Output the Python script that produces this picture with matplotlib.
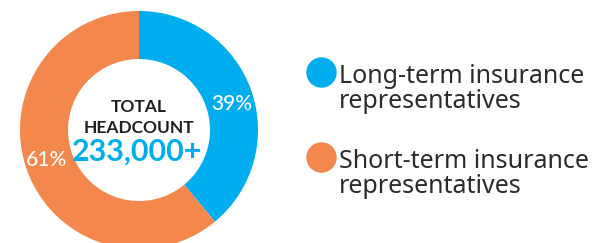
import matplotlib
matplotlib.use("Agg")
import matplotlib.pyplot as plt

categories = ["Long-term insurance\nrepresentatives", "Short-term insurance\nrepresentatives"]
shares = [39, 61]
colors = ["#00AEEF", "#F4874B"]
total_label = "233,000+"

fig = plt.figure(figsize=(5.92, 2.43), dpi=100)
ax = fig.add_axes([0, 0, 1, 1])
wedges, _ = ax.pie(shares, colors=colors, startangle=-90, counterclock=True,
                   center=(139, 130), radius=119,
                   wedgeprops=dict(width=48, edgecolor="none"))
ax.set_xlim(0, 592)
ax.set_ylim(243, 0)
ax.set_aspect("equal")
ax.axis("off")

font = "Lato"
ax.text(232, 104, f"{shares[0]}%", color="white", fontsize=15, family=font,
        fontweight="medium", ha="center", va="center")
ax.text(47, 160, f"{shares[1]}%", color="white", fontsize=15, family=font,
        fontweight="medium", ha="center", va="center")

ax.text(139, 107, "TOTAL", color="#231F20", fontsize=12.5, family=font,
        fontweight="bold", ha="center", va="center")
ax.text(139, 128, "HEADCOUNT", color="#231F20", fontsize=12.5, family=font,
        fontweight="bold", ha="center", va="center")
ax.text(137, 152, total_label, color=colors[0], fontsize=22, family=font,
        fontweight="bold", ha="center", va="center")

ys = [89, 174]
for lab, c, y in zip(categories, colors, ys):
    ax.scatter([321], [y - 17], s=480, color=c, linewidths=0)
    ax.text(339, y, lab, color="#2B2B2B", fontsize=18, family="Noto Sans",
            fontweight="light", ha="left", va="center", linespacing=1.02)

fig.savefig("out.png", dpi=100)
